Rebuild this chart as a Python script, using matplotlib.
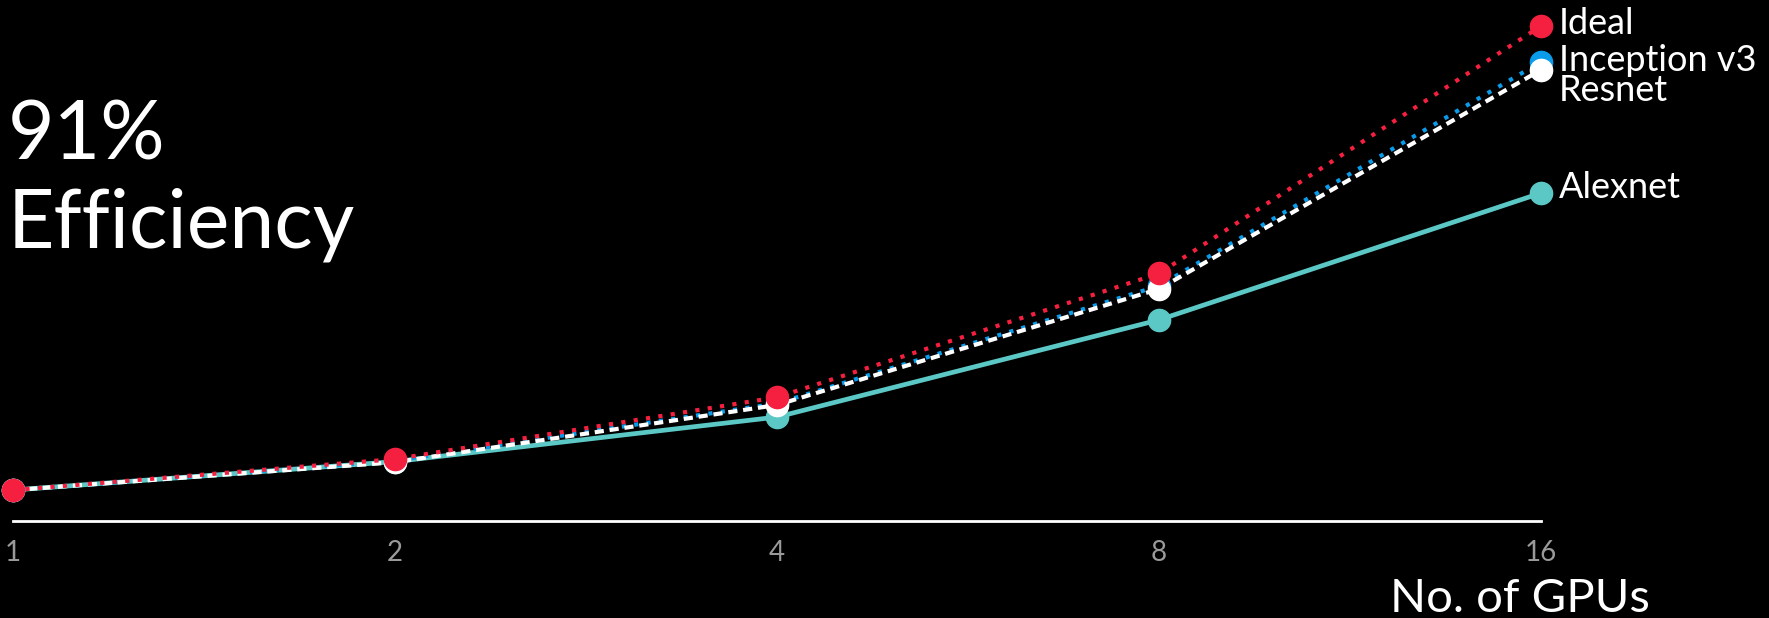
import matplotlib
matplotlib.use('Agg')
import matplotlib.pyplot as plt
import numpy as np

# GPU scaling data (speedup vs. number of GPUs)
gpus = ['1', '2', '4', '8', '16']
ideal = [1, 2, 4, 8, 16]
inception = [1, 1.95, 3.8, 7.6, 14.84]
resnet = [1, 1.9, 3.75, 7.5, 14.58]
alexnet = [1, 1.92, 3.36, 6.5, 10.6]

FONT = 'Lato'
RED = '#F5203F'
BLUE = '#0A9BEA'
TEAL = '#5BC8C6'

W, H = 1769, 618
fig = plt.figure(figsize=(W / 100, H / 100), dpi=100, facecolor='black')
ax = fig.add_axes([13 / W, (H - 521) / H, (1541 - 13) / W, 521 / H])
ax.set_facecolor('black')

x = np.arange(len(gpus))
ax.plot(x, alexnet, color=TEAL, lw=3.4, marker='o', ms=16, clip_on=False, zorder=2)
ax.plot(x, inception, color=BLUE, lw=3, ls=(0, (1, 2)), marker='o', ms=16,
        clip_on=False, zorder=3)
ax.plot(x, resnet, color='white', lw=3, ls=(0, (2.2, 1.4)), marker='o', ms=16,
        clip_on=False, zorder=4)
ax.plot(x, ideal, color=RED, lw=3, ls=(0, (1, 2)), marker='o', ms=16,
        clip_on=False, zorder=5)

ax.set_xlim(0, 4)
ax.set_ylim(0, 16.84)
for s in ['top', 'right', 'left']:
    ax.spines[s].set_visible(False)
ax.spines['bottom'].set_color('white')
ax.spines['bottom'].set_linewidth(2)
ax.set_yticks([])
ax.set_xticks(x)
ax.set_xticklabels(gpus, fontsize=20, color='#9a9a9a', family=FONT)
ax.tick_params(axis='x', length=0, pad=14)

# series labels at the right end
labels = [('Ideal', ideal[-1], 2), ('Inception v3', inception[-1], 1),
          ('Resnet', resnet[-1], -15), ('Alexnet', alexnet[-1], 4)]
for name, yv, dy in labels:
    ax.annotate(name, (4, yv), xytext=(13, dy), textcoords='offset points',
                ha='left', va='center', fontsize=26, color='white',
                family=FONT, annotation_clip=False)

fig.text(8 / W, 1 - 160 / H, '91%', fontsize=58, color='white', family=FONT,
         ha='left', va='baseline')
fig.text(8 / W, 1 - 247 / H, 'Efficiency', fontsize=58, color='white', family=FONT,
         ha='left', va='baseline')
fig.text(1650 / W, 1 - 612 / H, 'No. of GPUs', fontsize=34, color='white', family=FONT,
         ha='right', va='baseline')

plt.savefig('out.png', dpi=100, facecolor='black')
